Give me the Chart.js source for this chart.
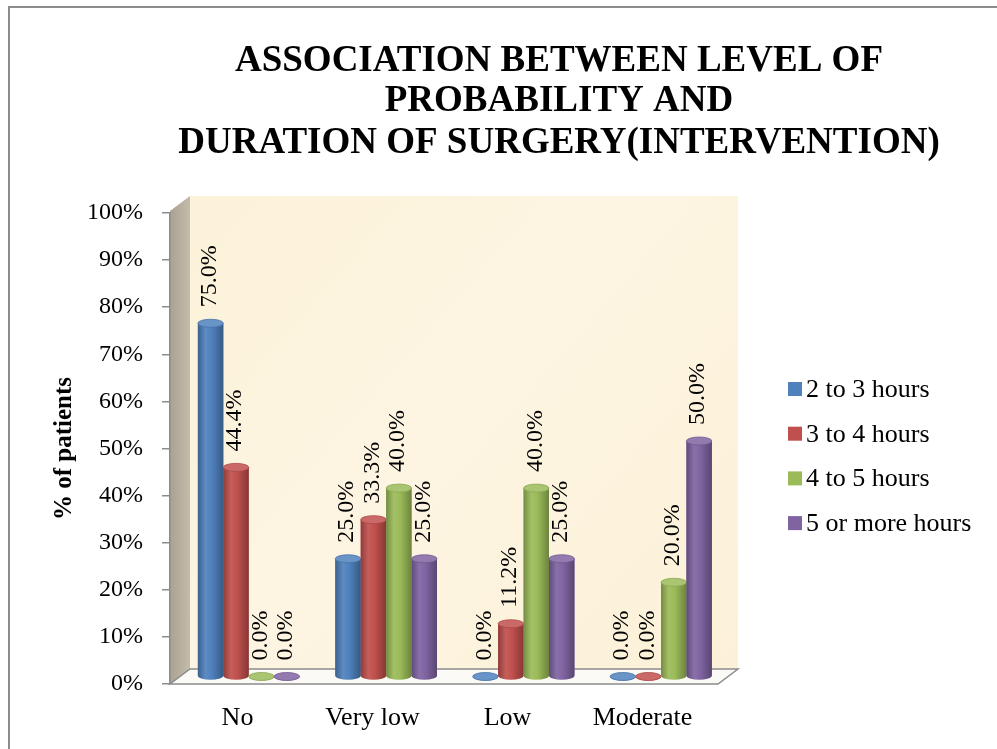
<!DOCTYPE html>
<html>
<head>
<meta charset="utf-8">
<script src="https://cdn.jsdelivr.net/npm/chart.js@4.4.1/dist/chart.umd.min.js"></script>
<style>
  html, body { margin: 0; padding: 0; background: #fff; overflow: hidden; }
  #frame { position: absolute; left: 8px; top: 6px; width: 1020px; height: 780px; border: 2px solid #8c8c8c; box-sizing: border-box; }
  #chart { position: absolute; left: 0; top: 0; }
</style>
</head>
<body>
<div id="frame"></div>
<canvas id="chart" width="997" height="749"></canvas>
<script>
  const categories = ["No", "Very low", "Low", "Moderate"];
  const seriesNames = ["2 to 3 hours", "3 to 4 hours", "4 to 5 hours", "5 or more hours"];
  const hours2to3 = [75.0, 25.0, 0.0, 0.0];
  const hours3to4 = [44.4, 33.3, 11.2, 0.0];
  const hours4to5 = [0.0, 40.0, 40.0, 20.0];
  const hours5plus = [0.0, 25.0, 25.0, 50.0];
  const seriesColors = ["#4f81bd", "#c0504d", "#9bbb59", "#8064a2"];
  const titleLines = ["ASSOCIATION BETWEEN LEVEL OF", "PROBABILITY AND", "DURATION OF SURGERY(INTERVENTION)"];

  const SERIF = "'Liberation Serif', 'Times New Roman', serif";
  const DEPTH_X = 20;
  const DEPTH_Y = 15;
  const SHIFT_X = 10;
  const SHIFT_Y = -7.5;
  const STRETCH = 1.018;

  function mix(hex, amt) {
    const n = parseInt(hex.slice(1), 16);
    let rgb = [(n >> 16) & 255, (n >> 8) & 255, n & 255];
    rgb = rgb.map((c) => Math.round(amt >= 0 ? c + (255 - c) * amt : c * (1 + amt)));
    return `rgb(${rgb[0]},${rgb[1]},${rgb[2]})`;
  }

  function toBackX(chart, x) {
    const l = chart.chartArea.left;
    return l + (x - l) * STRETCH + SHIFT_X;
  }

  // side wall, back wall and floor
  const wallsPlugin = {
    id: "walls",
    beforeDraw(chart) {
      const { ctx, chartArea: a } = chart;
      const bx = a.left + DEPTH_X;
      const by = a.top - DEPTH_Y - 2;
      const frontRight = a.right + 8;
      const backRight = frontRight + DEPTH_X;
      const backBottom = a.bottom - DEPTH_Y;
      ctx.save();

      let g = ctx.createLinearGradient(bx, by, backRight, backBottom);
      g.addColorStop(0, "#fcf2d9");
      g.addColorStop(0.45, "#fdf5e2");
      g.addColorStop(1, "#fcf1d8");
      ctx.fillStyle = g;
      ctx.fillRect(bx, by, backRight - bx, backBottom - by);

      g = ctx.createLinearGradient(a.left, 0, bx, 0);
      g.addColorStop(0, "#a9a191");
      g.addColorStop(1, "#c4bcab");
      ctx.fillStyle = g;
      ctx.beginPath();
      ctx.moveTo(a.left, a.top - 2);
      ctx.lineTo(bx, by);
      ctx.lineTo(bx, backBottom);
      ctx.lineTo(a.left, a.bottom);
      ctx.closePath();
      ctx.fill();

      ctx.fillStyle = "#fbfaf6";
      ctx.strokeStyle = "#8c8c8c";
      ctx.lineWidth = 1.5;
      ctx.beginPath();
      ctx.moveTo(a.left, a.bottom);
      ctx.lineTo(frontRight, a.bottom);
      ctx.lineTo(backRight, backBottom);
      ctx.lineTo(bx, backBottom);
      ctx.closePath();
      ctx.fill();
      ctx.stroke();
      ctx.restore();
    }
  };

  // cylinders + value labels
  const cylinderPlugin = {
    id: "cylinders",
    beforeDatasetsDraw(chart) {
      const ctx = chart.ctx;
      const l = chart.chartArea.left;
      ctx.save();
      ctx.translate(l + SHIFT_X, SHIFT_Y);
      ctx.scale(STRETCH, 1);
      ctx.translate(-l, 0);
    },
    afterDatasetsDraw(chart) {
      const ctx = chart.ctx;
      chart.data.datasets.forEach((ds, di) => {
        const color = seriesColors[di];
        chart.getDatasetMeta(di).data.forEach((bar) => {
          const { x, y, base, width } = bar.getProps(["x", "y", "base", "width"], true);
          const rx = width / 2;
          const ry = 4;
          const left = x - rx;
          const g = ctx.createLinearGradient(left, 0, left + width, 0);
          g.addColorStop(0, mix(color, -0.25));
          g.addColorStop(0.3, mix(color, 0.08));
          g.addColorStop(0.55, color);
          g.addColorStop(1, mix(color, -0.3));
          ctx.fillStyle = g;
          ctx.beginPath();
          ctx.moveTo(left, y);
          ctx.lineTo(left, base);
          ctx.ellipse(x, base, rx, ry, 0, Math.PI, 0, true);
          ctx.lineTo(left + width, y);
          ctx.closePath();
          ctx.fill();
          ctx.fillStyle = mix(color, 0.15);
          ctx.strokeStyle = mix(color, -0.1);
          ctx.lineWidth = 0.8;
          ctx.beginPath();
          ctx.ellipse(x, y, rx, ry, 0, 0, Math.PI * 2);
          ctx.fill();
          ctx.stroke();
        });
      });
      ctx.restore();

      ctx.save();
      ctx.fillStyle = "#000";
      ctx.font = `24px ${SERIF}`;
      ctx.textAlign = "left";
      ctx.textBaseline = "middle";
      chart.data.datasets.forEach((ds, di) => {
        chart.getDatasetMeta(di).data.forEach((bar, i) => {
          const { x, y } = bar.getProps(["x", "y"], true);
          ctx.save();
          ctx.translate(toBackX(chart, x) - 1, y + SHIFT_Y - 16);
          ctx.rotate(-Math.PI / 2);
          ctx.fillText(ds.data[i].toFixed(1) + "%", 0, 0);
          ctx.restore();
        });
      });
      ctx.restore();
    }
  };

  // title and legend
  const decorPlugin = {
    id: "decor",
    afterDraw(chart) {
      const ctx = chart.ctx;
      ctx.save();
      ctx.fillStyle = "#000";
      ctx.font = `bold 37px ${SERIF}`;
      ctx.textAlign = "center";
      ctx.textBaseline = "alphabetic";
      const baselines = [71, 111, 153];
      titleLines.forEach((t, i) => ctx.fillText(t, 559, baselines[i]));

      ctx.font = `26px ${SERIF}`;
      ctx.textAlign = "left";
      ctx.textBaseline = "middle";
      chart.data.datasets.forEach((ds, i) => {
        const cy = 389 + i * 44.7;
        ctx.fillStyle = seriesColors[i];
        ctx.fillRect(788, cy - 7, 14, 14);
        ctx.fillStyle = "#000";
        ctx.fillText(ds.label, 806, cy + 1);
      });
      ctx.restore();
    }
  };

  const seriesValues = [hours2to3, hours3to4, hours4to5, hours5plus];

  new Chart(document.getElementById("chart"), {
    type: "bar",
    data: {
      labels: categories,
      datasets: seriesValues.map((vals, i) => ({
        label: seriesNames[i],
        data: vals,
        backgroundColor: seriesColors[i],
        borderWidth: 0,
        categoryPercentage: 0.74,
        barPercentage: 1.0
      }))
    },
    options: {
      responsive: false,
      animation: false,
      devicePixelRatio: 1,
      layout: { padding: { left: 50, top: 213, right: 287, bottom: 15 } },
      plugins: {
        legend: { display: false },
        title: { display: false },
        tooltip: { enabled: false }
      },
      scales: {
        x: {
          grid: { display: false, drawTicks: false },
          border: { display: false },
          ticks: { color: "#000", font: { family: SERIF, size: 26 }, padding: 19 },
          afterFit(scale) { scale.height = 50; }
        },
        y: {
          min: 0,
          max: 100,
          ticks: {
            stepSize: 10,
            color: "#000",
            font: { family: SERIF, size: 24 },
            padding: 19,
            callback: (v) => v + "%"
          },
          grid: { drawOnChartArea: false, drawTicks: true, tickLength: 8, color: "#8c8c8c", lineWidth: 1.5 },
          border: { display: true, color: "#8c8c8c", width: 1.5 },
          title: {
            display: true,
            text: "% of patients",
            color: "#000",
            font: { family: SERIF, size: 25, weight: "bold" },
            padding: 0
          },
          afterFit(scale) { scale.width = 120; }
        }
      }
    },
    plugins: [wallsPlugin, cylinderPlugin, decorPlugin]
  });
</script>
</body>
</html>
